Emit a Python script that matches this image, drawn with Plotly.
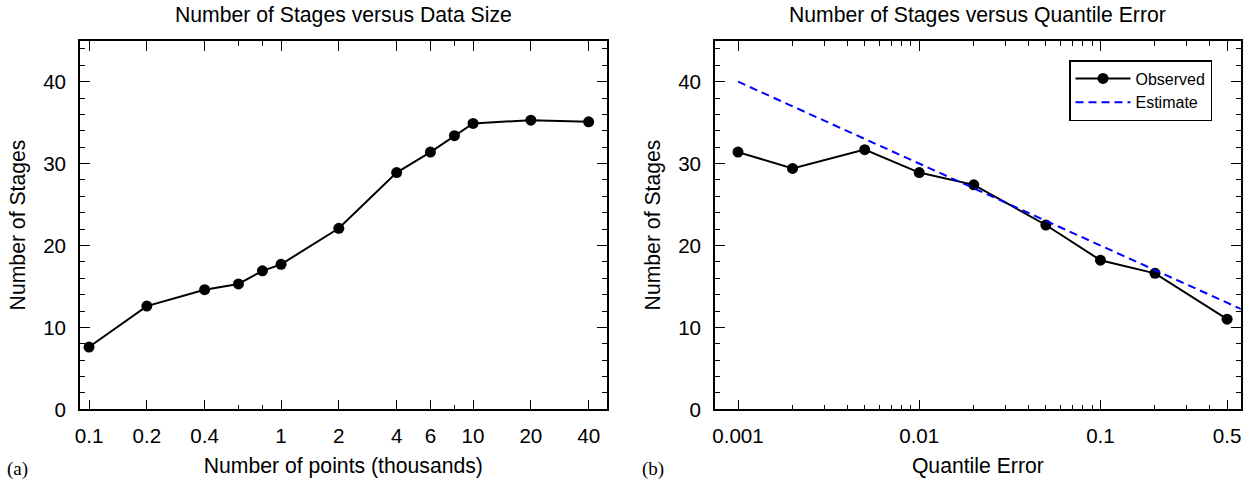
import plotly.graph_objects as go

# ---- data ----
size_k = [0.1, 0.2, 0.4, 0.6, 0.8, 1, 2, 4, 6, 8, 10, 20, 40]
stages_size = [7.6, 12.6, 14.6, 15.3, 16.9, 17.7, 22.1, 28.9, 31.4, 33.4, 34.9, 35.3, 35.1]

q_err = [0.001, 0.002, 0.005, 0.01, 0.02, 0.05, 0.1, 0.2, 0.5]
stages_obs = [31.4, 29.4, 31.7, 28.9, 27.4, 22.5, 18.2, 16.6, 11.0]
est_x = [0.001, 1.0]
est_y = [40, 10]

xa_major = [0.1, 0.2, 0.4, 1, 2, 4, 6, 10, 20, 40]
xa_labels = ["0.1", "0.2", "0.4", "1", "2", "4", "6", "10", "20", "40"]
xa_minor = [0.6, 0.8, 8]

xb_major = [0.001, 0.01, 0.1, 0.5]
xb_labels = ["0.001", "0.01", "0.1", "0.5"]
xb_minor = [0.002, 0.003, 0.004, 0.005, 0.006, 0.007, 0.008, 0.009,
            0.02, 0.03, 0.04, 0.05, 0.06, 0.07, 0.08, 0.09,
            0.2, 0.3, 0.4]

y_major = [0, 10, 20, 30, 40]

W, H = 1254, 482
FONT = "Liberation Sans, Arial, Helvetica, sans-serif"
TICKF = 20.6
TITF = 21.2

fig = go.Figure()
fig.add_trace(go.Scatter(
    x=size_k, y=stages_size, mode="lines+markers",
    line=dict(color="black", width=2),
    marker=dict(color="black", size=11),
    xaxis="x", yaxis="y", showlegend=False, cliponaxis=False))
fig.add_trace(go.Scatter(
    x=q_err, y=stages_obs, mode="lines+markers", name="Observed",
    line=dict(color="black", width=2),
    marker=dict(color="black", size=11),
    xaxis="x2", yaxis="y2", cliponaxis=False))
fig.add_trace(go.Scatter(
    x=est_x, y=est_y, mode="lines", name="Estimate",
    line=dict(color="#0000ff", width=2, dash="8px,5px"),
    xaxis="x2", yaxis="y2"))

def px_x(v):
    return v / W

def px_y(v):
    return 1 - v / H

ydom = [px_y(409.3), px_y(40.7)]
common_axis = dict(
    showline=True, linecolor="black", linewidth=1.6, mirror="ticks",
    ticks="inside", ticklen=10, tickwidth=1.3, tickcolor="black",
    showgrid=False, zeroline=False, automargin=False,
    tickfont=dict(family=FONT, size=TICKF, color="black"),
)

fig.update_layout(
    width=W, height=H,
    margin=dict(l=0, r=0, t=0, b=0, autoexpand=False),
    paper_bgcolor="white", plot_bgcolor="white",
    font=dict(family=FONT, color="black"),
    xaxis=dict(
        type="log", domain=[px_x(80), px_x(606.7)], range=[-1.047, 1.696],
        tickmode="array", tickvals=xa_major, ticktext=xa_labels,
        minor=dict(tickmode="array", tickvals=xa_minor, ticks="inside", ticklen=5,
                   tickwidth=1.3, tickcolor="black", showgrid=False),
        ticklabelstandoff=7,
        title=dict(text="Number of points (thousands)", font=dict(family=FONT, size=TITF), standoff=12),
        anchor="y", **common_axis),
    yaxis=dict(
        domain=ydom, range=[0, 45],
        tickmode="array", tickvals=y_major,
        minor=dict(dtick=2, ticks="inside", ticklen=5, tickwidth=1.3,
                   tickcolor="black", showgrid=False),
        ticklabelstandoff=8,
        title=dict(text="Number of Stages", font=dict(family=FONT, size=TITF), standoff=12),
        anchor="x", **common_axis),
    xaxis2=dict(
        type="log", domain=[px_x(715), px_x(1240.7)], range=[-3.127, -0.226],
        tickmode="array", tickvals=xb_major, ticktext=xb_labels,
        minor=dict(tickmode="array", tickvals=xb_minor, ticks="inside", ticklen=5,
                   tickwidth=1.3, tickcolor="black", showgrid=False),
        ticklabelstandoff=7,
        title=dict(text="Quantile Error", font=dict(family=FONT, size=TITF), standoff=12),
        anchor="y2", **common_axis),
    yaxis2=dict(
        domain=ydom, range=[0, 45],
        tickmode="array", tickvals=y_major,
        minor=dict(dtick=2, ticks="inside", ticklen=5, tickwidth=1.3,
                   tickcolor="black", showgrid=False),
        ticklabelstandoff=8,
        title=dict(text="Number of Stages", font=dict(family=FONT, size=TITF), standoff=12),
        anchor="x2", **common_axis),
    legend=dict(
        x=px_x(1212), xanchor="right", y=px_y(60), yanchor="top",
        bgcolor="white", bordercolor="black", borderwidth=1.5,
        font=dict(family=FONT, size=16, color="black"),
        itemwidth=55,
    ),
    annotations=[
        dict(text="Number of Stages versus Data Size", xref="paper", yref="paper",
             x=px_x(343.3), y=px_y(15.5), xanchor="center", yanchor="middle",
             showarrow=False, font=dict(family=FONT, size=21.2, color="black")),
        dict(text="Number of Stages versus Quantile Error", xref="paper", yref="paper",
             x=px_x(977.8), y=px_y(15.5), xanchor="center", yanchor="middle",
             showarrow=False, font=dict(family=FONT, size=21.2, color="black")),
        dict(text="(a)", xref="paper", yref="paper",
             x=px_x(5), y=px_y(469), xanchor="left", yanchor="middle",
             showarrow=False, font=dict(family="Liberation Serif, Times New Roman, serif", size=19, color="black")),
        dict(text="(b)", xref="paper", yref="paper",
             x=px_x(640), y=px_y(469), xanchor="left", yanchor="middle",
             showarrow=False, font=dict(family="Liberation Serif, Times New Roman, serif", size=19, color="black")),
    ],
)

fig.write_html("out.html")
